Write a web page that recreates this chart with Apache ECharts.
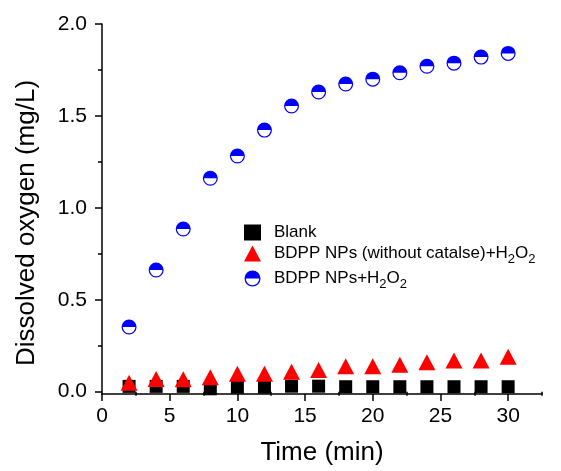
<!DOCTYPE html>
<html>
<head>
<meta charset="utf-8">
<script src="https://cdn.jsdelivr.net/npm/echarts@6.0.0/dist/echarts.min.js"></script>
<style>
  html, body { margin: 0; padding: 0; background: #fff; }
  #chart { width: 561px; height: 471px; }
</style>
</head>
<body>
<div id="chart"></div>
<script>
// 数据
const timeMin = [2, 4, 6, 8, 10, 12, 14, 16, 18, 20, 22, 24, 26, 28, 30]
const blank = [0.029, 0.029, 0.029, 0.016, 0.025, 0.025, 0.03, 0.03, 0.027, 0.027, 0.027, 0.027, 0.027, 0.027, 0.027]
const noCatalase = [0.049, 0.069, 0.068, 0.078, 0.097, 0.097, 0.109, 0.118, 0.138, 0.138, 0.147, 0.16, 0.17, 0.17, 0.19]
const bdppH2O2 = [0.352, 0.662, 0.885, 1.161, 1.282, 1.423, 1.554, 1.63, 1.674, 1.70, 1.735, 1.77, 1.787, 1.82, 1.84]

const xMajor = [0, 5, 10, 15, 20, 25, 30]
const xMinor = [2.5, 7.5, 12.5, 17.5, 22.5, 27.5, 32.5]
const yMajor = [0, 0.5, 1.0, 1.5, 2.0]
const yMinor = [0.25, 0.75, 1.25, 1.75]

const seriesNames = ['Blank', 'BDPP NPs (without catalse)+H2O2', 'BDPP NPs+H2O2']

const FONT = 'Liberation Sans, Arial, sans-serif'

// 半实心圆: 外圈 + 上半填充
const halfCircle = 'path://M0,-10 A10,10 0 1,1 0,10 A10,10 0 1,1 0,-10 Z ' +
  'M0,-8.4 A8.4,8.4 0 1,0 0,8.4 A8.4,8.4 0 1,0 0,-8.4 Z ' +
  'M-10,0 A10,10 0 0,1 10,0 Z'

const pairs = (ys) => timeMin.map((t, i) => [t, ys[i]])

const chart = echarts.init(document.getElementById('chart'))

const axisCommon = {
  axisLine: { show: true, onZero: false, lineStyle: { color: '#000', width: 1.5 } },
  splitLine: { show: false }
}

const option = {
  backgroundColor: '#fff',
  animation: false,
  grid: { left: 102, right: 19, top: 24, bottom: 77 },
  legend: {
    orient: 'vertical',
    left: 239,
    top: 219,
    itemWidth: 17,
    itemHeight: 16,
    itemGap: 4,
    data: seriesNames,
    textStyle: {
      fontFamily: FONT,
      fontSize: 17,
      color: '#000',
      padding: [0, 0, 0, 8],
      rich: {
        t: { fontFamily: FONT, fontSize: 17, color: '#000' },
        sub: { fontFamily: FONT, fontSize: 13, color: '#000', padding: [12, 0, 0, 0] }
      }
    },
    formatter: (name) => name.replace('H2O2', '{t|H}{sub|2}{t|O}{sub|2}')
  },
  xAxis: [
    {
      ...axisCommon,
      type: 'value',
      min: 0,
      max: 32.5,
      name: 'Time (min)',
      nameLocation: 'middle',
      nameGap: 46,
      nameTextStyle: { fontFamily: FONT, fontSize: 26, color: '#000' },
      axisTick: { show: true, length: 7, customValues: xMajor, lineStyle: { color: '#000', width: 1.5 } },
      axisLabel: { customValues: xMajor, margin: 12, fontFamily: FONT, fontSize: 21, color: '#000' }
    },
    {
      type: 'value',
      min: 0,
      max: 32.5,
      position: 'bottom',
      axisLine: { show: false },
      splitLine: { show: false },
      axisLabel: { show: false },
      axisTick: { show: true, length: 4, customValues: xMinor, lineStyle: { color: '#000', width: 1.5 } }
    }
  ],
  yAxis: [
    {
      ...axisCommon,
      type: 'value',
      min: -0.0125,
      max: 2,
      name: 'Dissolved oxygen (mg/L)',
      nameLocation: 'middle',
      nameGap: 62,
      nameTextStyle: { fontFamily: FONT, fontSize: 26, color: '#000', padding: [0, 28, 0, 0] },
      axisTick: { show: true, length: 7, customValues: yMajor, lineStyle: { color: '#000', width: 1.5 } },
      axisLabel: {
        customValues: yMajor,
        margin: 15,
        fontFamily: FONT,
        fontSize: 21,
        color: '#000',
        formatter: (v) => v.toFixed(1)
      }
    },
    {
      type: 'value',
      min: -0.0125,
      max: 2,
      position: 'left',
      axisLine: { show: false },
      splitLine: { show: false },
      axisLabel: { show: false },
      axisTick: { show: true, length: 4, customValues: yMinor, lineStyle: { color: '#000', width: 1.5 } }
    }
  ],
  series: [
    {
      name: seriesNames[0],
      type: 'scatter',
      data: pairs(blank),
      symbol: 'rect',
      symbolSize: 13,
      itemStyle: { color: '#000', opacity: 1 }
    },
    {
      name: seriesNames[1],
      type: 'scatter',
      data: pairs(noCatalase),
      symbol: 'triangle',
      symbolSize: [17, 16],
      itemStyle: { color: '#ff0000', opacity: 1 }
    },
    {
      name: seriesNames[2],
      type: 'scatter',
      data: pairs(bdppH2O2),
      symbol: halfCircle,
      symbolSize: 15,
      itemStyle: { color: '#0000ff', opacity: 1 }
    }
  ]
}

chart.setOption(option)
</script>
</body>
</html>
